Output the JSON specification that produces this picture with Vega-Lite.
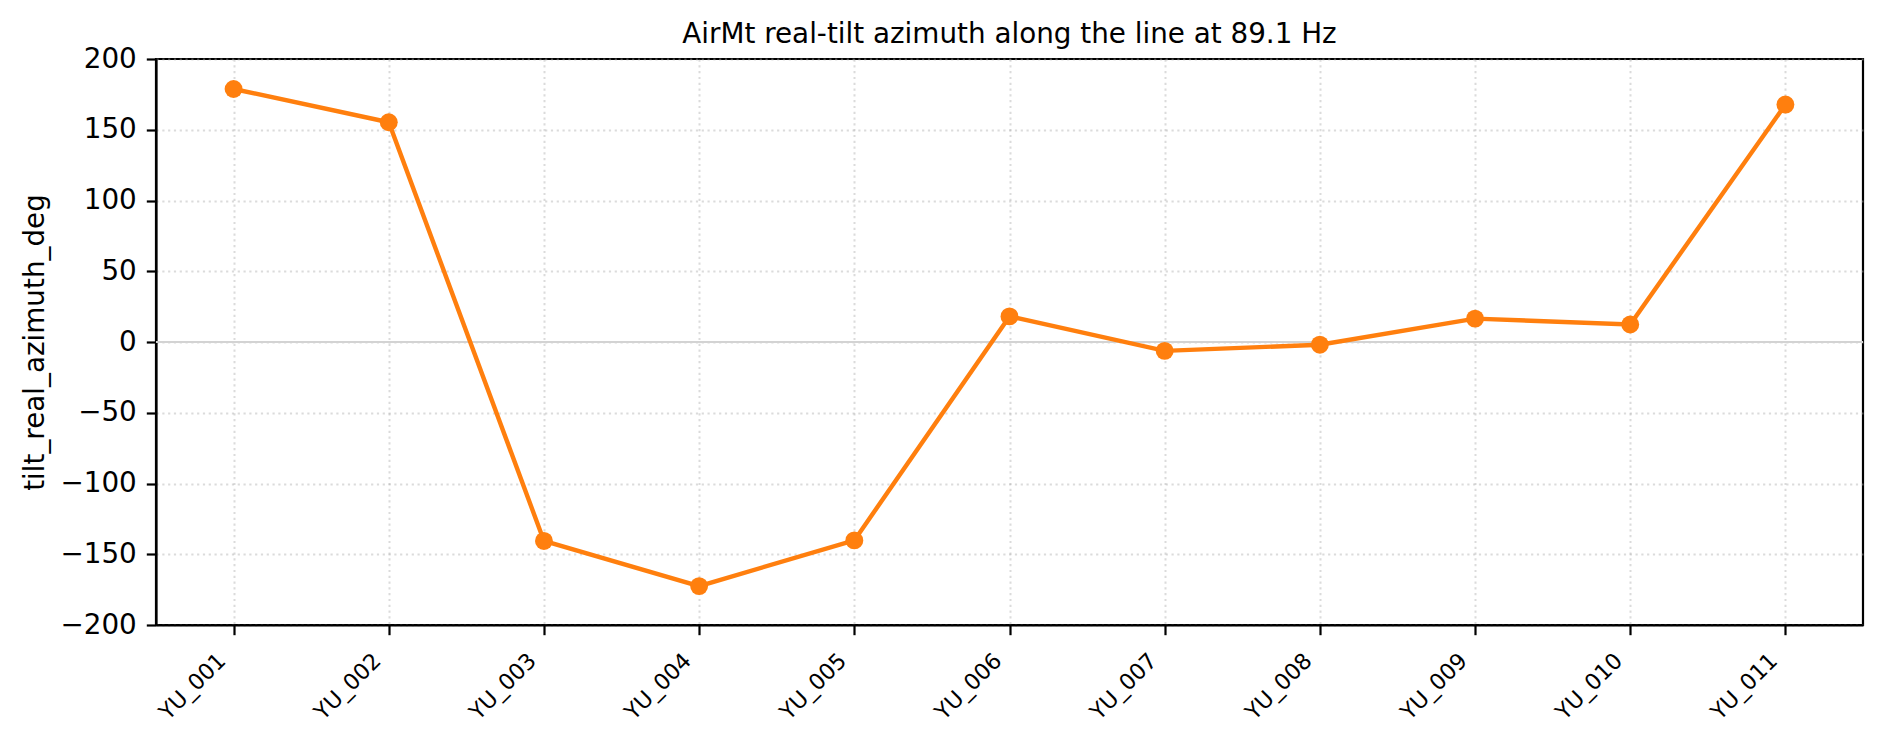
{
  "$schema": "https://vega.github.io/schema/vega-lite/v6.json",
  "width": 1707,
  "height": 566,
  "autosize": {"type": "none"},
  "padding": {"left": 156, "top": 59, "right": 18, "bottom": 114},
  "background": "white",
  "title": {
    "text": "AirMt real-tilt azimuth along the line at 89.1 Hz",
    "font": "DejaVu Sans",
    "fontSize": 27.8,
    "fontWeight": "normal",
    "color": "black",
    "anchor": "middle",
    "frame": "group",
    "baseline": "bottom",
    "offset": -32
  },
  "data": {
    "values": [
      {"station": "YU_001", "tilt_real_azimuth_deg": 178.8},
      {"station": "YU_002", "tilt_real_azimuth_deg": 155.3},
      {"station": "YU_003", "tilt_real_azimuth_deg": -140.6},
      {"station": "YU_004", "tilt_real_azimuth_deg": -172.5},
      {"station": "YU_005", "tilt_real_azimuth_deg": -140.2},
      {"station": "YU_006", "tilt_real_azimuth_deg": 18.1},
      {"station": "YU_007", "tilt_real_azimuth_deg": -6.3},
      {"station": "YU_008", "tilt_real_azimuth_deg": -1.9},
      {"station": "YU_009", "tilt_real_azimuth_deg": 16.5},
      {"station": "YU_010", "tilt_real_azimuth_deg": 12.4},
      {"station": "YU_011", "tilt_real_azimuth_deg": 167.8}
    ]
  },
  "encoding": {
    "x": {
      "field": "station",
      "type": "nominal",
      "sort": null,
      "scale": {"type": "point", "padding": 0.5},
      "axis": {
        "title": null,
        "labelAngle": -45,
        "labelAlign": "right",
        "labelBaseline": "middle",
        "labelFontSize": 22.2,
        "labelPadding": 22,
        "labelOffset": -12,
        "grid": true
      }
    },
    "y": {
      "field": "tilt_real_azimuth_deg",
      "type": "quantitative",
      "scale": {"domain": [-200, 200], "nice": false},
      "axis": {
        "title": "tilt_real_azimuth_deg",
        "values": [-200, -150, -100, -50, 0, 50, 100, 150, 200],
        "labelFontSize": 27.8,
        "labelPadding": 10,
        "titlePadding": 10,
        "grid": true
      }
    }
  },
  "layer": [
    {
      "mark": {"type": "rule", "color": "#d3d3d3", "strokeWidth": 2},
      "encoding": {"y": {"datum": 0}, "x": {}}
    },
    {
      "mark": {"type": "line", "color": "#ff7f0e", "strokeWidth": 4.4}
    },
    {
      "mark": {"type": "circle", "color": "#ff7f0e", "opacity": 1, "size": 320}
    }
  ],
  "config": {
    "font": "DejaVu Sans",
    "view": {"stroke": "black", "strokeWidth": 2.2},
    "axis": {
      "domainColor": "black",
      "domainWidth": 2.2,
      "tickColor": "black",
      "tickWidth": 2.2,
      "tickSize": 9.7,
      "labelColor": "black",
      "labelFont": "DejaVu Sans",
      "titleFont": "DejaVu Sans",
      "titleFontSize": 27.8,
      "titleFontWeight": "normal",
      "titleColor": "black",
      "gridColor": "#b0b0b0",
      "gridOpacity": 0.45,
      "gridDash": [2.2, 3.6],
      "gridWidth": 2
    }
  }
}
